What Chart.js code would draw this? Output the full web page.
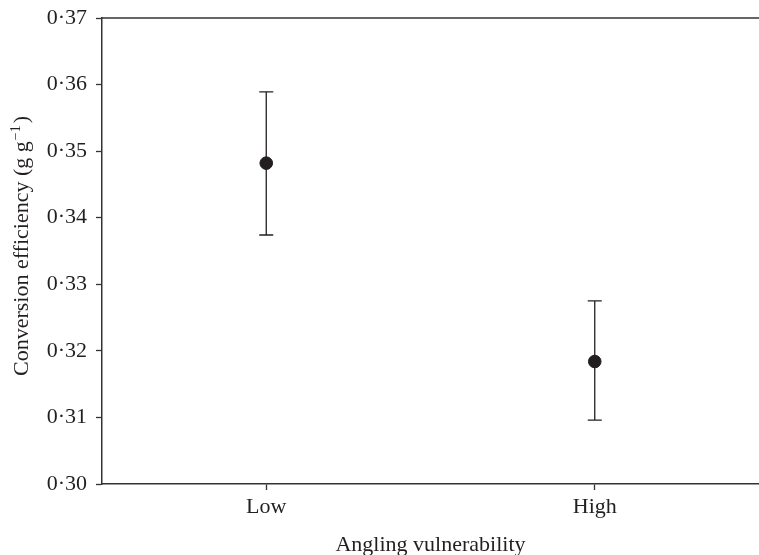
<!DOCTYPE html>
<html>
<head>
<meta charset="utf-8">
<script src="https://cdn.jsdelivr.net/npm/chart.js@4"></script>
<style>
  html, body { margin: 0; padding: 0; background: #fff; }
  #wrap { width: 759px; height: 555px; }
</style>
</head>
<body>
<div id="wrap"><canvas id="chart"></canvas></div>
<script>
const categories = ['Low', 'High'];
const means = [0.3482, 0.3184];
const upper = [0.3589, 0.3275];
const lower = [0.3374, 0.3096];
const yTicks = [0.30, 0.31, 0.32, 0.33, 0.34, 0.35, 0.36, 0.37];
const yTickLabels = ['0·30', '0·31', '0·32', '0·33', '0·34', '0·35', '0·36', '0·37'];
const yTitle = ['Conversion efficiency (g g', '−1', ')'];

const ink = '#231f20';
const axisColor = '#333';
const serif = 'Liberation Serif';

// error bars, top frame line and the y title with a real superscript
const extras = {
    id: 'extras',
    afterDatasetsDraw(chart) {
        const { ctx, scales: { x, y }, chartArea } = chart;
        ctx.save();
        ctx.strokeStyle = ink;
        ctx.lineWidth = 1.3;
        categories.forEach((c, i) => {
            const px = x.getPixelForValue(i);
            const top = y.getPixelForValue(upper[i]);
            const bot = y.getPixelForValue(lower[i]);
            ctx.beginPath();
            ctx.moveTo(px, top);
            ctx.lineTo(px, bot);
            ctx.moveTo(px - 7, top);
            ctx.lineTo(px + 7, top);
            ctx.moveTo(px - 7, bot);
            ctx.lineTo(px + 7, bot);
            ctx.stroke();
        });
        ctx.strokeStyle = axisColor;
        ctx.lineWidth = 1.5;
        ctx.beginPath();
        ctx.moveTo(chartArea.left, chartArea.top);
        ctx.lineTo(chartArea.right, chartArea.top);
        ctx.stroke();
        ctx.restore();
    },
    afterDraw(chart) {
        const { ctx } = chart;
        const big = '22px "' + serif + '"';
        const small = '14px "' + serif + '"';
        ctx.save();
        ctx.fillStyle = ink;
        ctx.textBaseline = 'alphabetic';
        ctx.font = big;
        const w0 = ctx.measureText(yTitle[0]).width;
        const w2 = ctx.measureText(yTitle[2]).width;
        ctx.font = small;
        const w1 = ctx.measureText(yTitle[1]).width;
        const total = w0 + 1 + w1 + 2 + w2;
        ctx.translate(28, 246);
        ctx.rotate(-Math.PI / 2);
        let cx = -total / 2;
        ctx.font = big;
        ctx.fillText(yTitle[0], cx, 0);
        cx += w0 + 1;
        ctx.font = small;
        ctx.fillText(yTitle[1], cx, -8);
        cx += w1 + 2;
        ctx.font = big;
        ctx.fillText(yTitle[2], cx, 0);
        ctx.restore();
    }
};

const ctx = document.getElementById('chart');

new Chart(ctx, {
    type: 'line',
    data: {
        labels: categories,
        datasets: [{
            data: means,
            showLine: false,
            pointRadius: 6.3,
            pointHoverRadius: 6.3,
            pointBackgroundColor: ink,
            pointBorderColor: ink,
            borderColor: ink
        }]
    },
    options: {
        responsive: true,
        maintainAspectRatio: false,
        animation: false,
        devicePixelRatio: 1,
        layout: { autoPadding: false, padding: { top: 18, right: 0, bottom: 0, left: 0 } },
        plugins: {
            legend: { display: false },
            tooltip: { enabled: false }
        },
        scales: {
            x: {
                type: 'category',
                offset: true,
                afterFit: s => { s.height = 71; s.paddingLeft = 0; s.paddingRight = 0; },
                grid: {
                    offset: false,
                    drawOnChartArea: false,
                    drawTicks: true,
                    tickLength: 6,
                    tickWidth: 1.3,
                    color: axisColor
                },
                border: { display: true, color: axisColor, width: 1.5 },
                ticks: {
                    color: ink,
                    padding: 4,
                    font: { family: serif, size: 22 }
                },
                title: {
                    display: true,
                    text: 'Angling vulnerability',
                    color: ink,
                    padding: { top: 0, bottom: -3 },
                    font: { family: serif, size: 22 }
                }
            },
            y: {
                min: 0.30,
                max: 0.37,
                afterFit: s => { s.width = 102; s.paddingTop = 0; s.paddingBottom = 0; },
                afterBuildTicks: s => { s.ticks = yTicks.map(v => ({ value: v })); },
                grid: {
                    drawOnChartArea: false,
                    drawTicks: true,
                    tickLength: 6,
                    tickWidth: 1.3,
                    color: axisColor
                },
                border: { display: true, color: axisColor, width: 1.5 },
                ticks: {
                    color: ink,
                    padding: 9,
                    font: { family: serif, size: 22 },
                    callback: (v, i) => yTickLabels[i]
                }
            }
        }
    },
    plugins: [extras]
});
</script>
</body>
</html>
